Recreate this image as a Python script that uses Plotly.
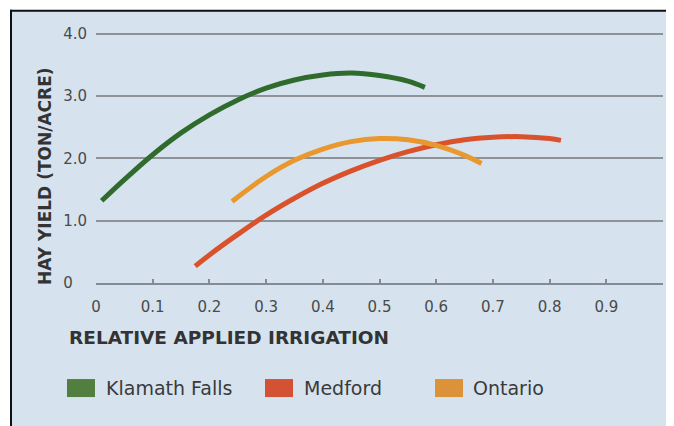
import plotly.graph_objects as go

# ---- data ----
klamath_x = [0.01, 0.05, 0.10, 0.15, 0.20, 0.25, 0.30, 0.35, 0.40, 0.45, 0.50, 0.55, 0.58]
klamath_y = [1.32, 1.66, 2.06, 2.41, 2.70, 2.94, 3.13, 3.26, 3.34, 3.37, 3.33, 3.24, 3.14]

medford_x = [0.175, 0.20, 0.25, 0.30, 0.35, 0.40, 0.45, 0.50, 0.55, 0.60, 0.65, 0.70, 0.75, 0.80, 0.82]
medford_y = [0.27, 0.45, 0.78, 1.09, 1.36, 1.60, 1.80, 1.97, 2.11, 2.22, 2.30, 2.34, 2.35, 2.32, 2.29]

ontario_x = [0.24, 0.30, 0.35, 0.40, 0.45, 0.50, 0.55, 0.60, 0.65, 0.68]
ontario_y = [1.31, 1.71, 1.97, 2.15, 2.27, 2.32, 2.30, 2.21, 2.05, 1.92]

series_names = ["Klamath Falls", "Medford", "Ontario"]
series_colors = ["#2f6b2c", "#d9522c", "#e8982f"]
legend_colors = ["#527f3f", "#d25233", "#dc9238"]

x_title = "RELATIVE APPLIED IRRIGATION"
y_title = "HAY YIELD (TON/ACRE)"
x_tickvals = [0, 0.1, 0.2, 0.3, 0.4, 0.5, 0.6, 0.7, 0.8, 0.9, 1.0]
x_ticktext = ["0", "0.1", "0.2", "0.3", "0.4", "0.5", "0.6", "0.7", "0.8", "0.9", ""]
y_tickvals = [0, 1, 2, 3, 4]
y_ticktext = ["0\u00a0\u00a0\u00a0", "1.0", "2.0", "3.0", "4.0"]

# page body has an 8px margin; work in window coordinates and shift
OFF = 8
WIN_W, WIN_H = 674, 426
W, H = WIN_W - OFF, WIN_H - OFF
X0, X1 = 96, 663          # window px of x=0 and x=1
Y0, Y4 = 283, 34          # window px of y=0 and y=4
YMAX = 4.03
ppu = (Y0 - Y4) / 4.0
Ytop = Y0 - YMAX * ppu
L = X0 - OFF
R = WIN_W - X1
T = Ytop - OFF
B = WIN_H - Y0
PW, PH = W - L - R, H - T - B

def px(x):
    return (x - X0) / PW

def py(y):
    return (Y0 - y) / PH

FONT = "DejaVu Sans"
BG = "#d6e3ee"

fig = go.Figure()
for xs, ys, name, col in zip([klamath_x, medford_x, ontario_x],
                             [klamath_y, medford_y, ontario_y],
                             series_names, series_colors):
    fig.add_trace(go.Scatter(x=xs, y=ys, mode="lines", name=name,
                             line=dict(color=col, width=5, shape="spline"),
                             showlegend=False))

shapes = [
    dict(type="rect", xref="paper", yref="paper", layer="below",
         x0=px(11), x1=px(WIN_W + 5), y0=py(WIN_H + 5), y1=py(11),
         fillcolor=BG, line=dict(width=0)),
    dict(type="line", xref="paper", yref="paper",
         x0=px(10), x1=px(WIN_W + 5), y0=py(11), y1=py(11),
         line=dict(color="#111111", width=2)),
    dict(type="line", xref="paper", yref="paper",
         x0=px(11), x1=px(11), y0=py(10), y1=py(WIN_H + 5),
         line=dict(color="#111111", width=2)),
]

annotations = [
    dict(xref="paper", yref="paper", x=px(67), y=py(337),
         xanchor="left", yanchor="middle", showarrow=False, text=x_title,
         font=dict(family=FONT, size=18.5, color="#333333", weight="bold")),
    dict(xref="paper", yref="paper", x=px(45), y=py(177), textangle=-90,
         xanchor="center", yanchor="middle", showarrow=False, text=y_title,
         font=dict(family=FONT, size=17, color="#333333", weight="bold")),
]
sw_x = [67, 265, 435]
txt_x = [104, 302, 471]
for sx, tx, name, col in zip(sw_x, txt_x, series_names, legend_colors):
    shapes.append(dict(type="rect", xref="paper", yref="paper",
                       x0=px(sx), x1=px(sx + 28), y0=py(397), y1=py(379),
                       fillcolor=col, line=dict(width=0)))
    annotations.append(dict(xref="paper", yref="paper", x=px(tx), y=py(388),
                            xanchor="left", yanchor="middle", showarrow=False,
                            text=name, font=dict(family=FONT, size=19, color="#3a3a3a")))

fig.update_layout(
    width=W, height=H,
    margin=dict(l=L, r=R, t=T, b=B, pad=0),
    paper_bgcolor="white",
    plot_bgcolor=BG,
    shapes=shapes,
    annotations=annotations,
    showlegend=False,
    xaxis=dict(range=[0, 1.0], tickvals=x_tickvals, ticktext=x_ticktext,
               showgrid=False, zeroline=False,
               showline=True, linecolor="#858b92", linewidth=2,
               ticks="inside", ticklen=4, tickwidth=1.5, tickcolor="#858b92",
               ticklabelstandoff=9,
               tickfont=dict(family=FONT, size=15, color="#4a4a4a"),
               fixedrange=True),
    yaxis=dict(range=[0, YMAX], tickvals=y_tickvals, ticktext=y_ticktext,
               showgrid=True, gridcolor="#8d9399", gridwidth=2,
               zeroline=False, showline=False, ticks="",
               ticklabelstandoff=8,
               tickfont=dict(family=FONT, size=15, color="#4a4a4a"),
               fixedrange=True),
)

fig.write_html("out.html")
